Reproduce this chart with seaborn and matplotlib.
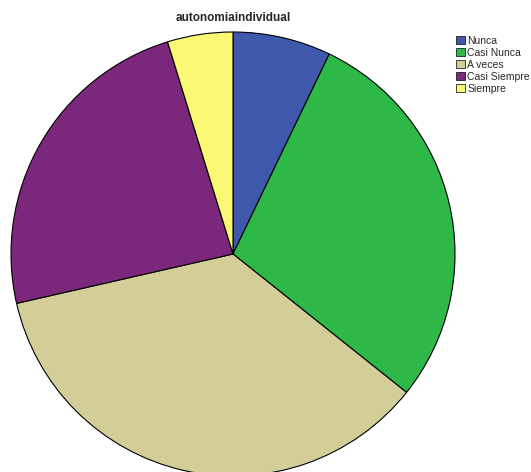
import matplotlib
matplotlib.use("Agg")
import matplotlib.pyplot as plt
import seaborn as sns
from matplotlib.patches import Patch

categories = ["Nunca", "Casi Nunca", "A veces", "Casi Siempre", "Siempre"]
counts = [3, 12, 15, 10, 2]
colors = ["#3E58AC", "#2EB848", "#D3CE97", "#7B287C", "#FBF873"]
title = "autonomiaindividual"

sns.set_style("white")
plt.rcParams['font.family'] = ['Liberation Sans', 'DejaVu Sans']

W, H = 531, 472
fig = plt.figure(figsize=(W / 100, H / 100), dpi=100)
cx, cy, r = 233, 254, 222
ax = fig.add_axes([(cx - r) / W, (H - cy - r) / H, 2 * r / W, 2 * r / H])
pal = sns.color_palette(colors)
ax.pie(counts, colors=pal, startangle=90, counterclock=False, radius=1,
       wedgeprops=dict(edgecolor="black", linewidth=0.8))
ax.set_xlim(-1, 1)
ax.set_ylim(-1, 1)
ax.set_aspect("equal")
ax.axis("off")

fig.text(cx / W, 1 - 18 / H, title, ha="center", va="center",
         fontsize=8.5, fontweight="bold")

handles = [Patch(facecolor=c, edgecolor="black", linewidth=0.5) for c in pal]
leg = fig.legend(handles, categories, loc="upper left",
                 bbox_to_anchor=(456 / W, 1 - 35.5 / H), frameon=False,
                 fontsize=7.5, handlelength=0.85, handleheight=0.85,
                 handletextpad=0.25, labelspacing=0.2, borderpad=0, borderaxespad=0)

fig.savefig("out.png", dpi=100)
